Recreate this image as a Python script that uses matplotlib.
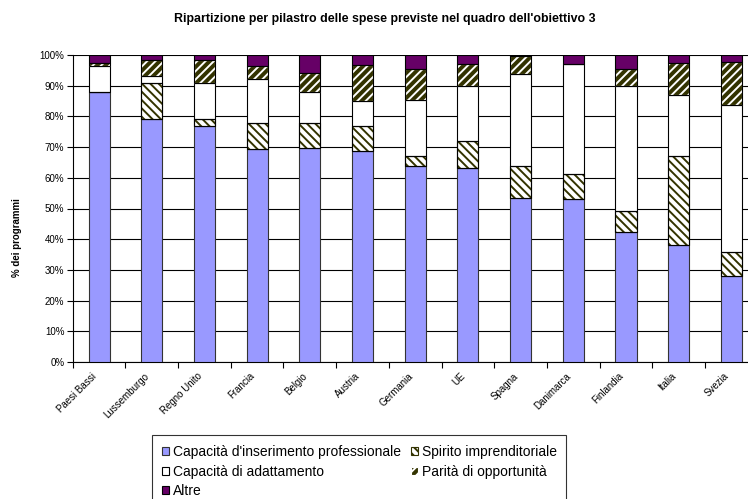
import matplotlib
matplotlib.use("Agg")
import matplotlib.pyplot as plt
import matplotlib.transforms as mtransforms
import numpy as np

plt.rcParams['font.family'] = ['Liberation Sans', 'DejaVu Sans']
plt.rcParams['hatch.linewidth'] = 1.4

categories = ['Paesi Bassi', 'Lussemburgo', 'Regno Unito', 'Francia', 'Belgio', 'Austria',
              'Germania', 'UE', 'Spagna', 'Danimarca', 'Finlandia', 'Italia', 'Svezia']
inserimento = [88.0, 79.0, 77.0, 69.5, 69.8, 68.7, 64.0, 63.1, 53.5, 53.2, 42.3, 38.2, 28.0]
spirito = [0.0, 12.0, 2.3, 8.3, 8.0, 8.3, 3.2, 8.9, 10.5, 8.1, 6.8, 28.9, 7.7]
adattamento = [8.3, 2.2, 11.6, 14.3, 10.3, 7.9, 18.0, 17.8, 29.8, 35.7, 40.9, 20.0, 48.0]
parita = [1.0, 5.1, 7.4, 4.2, 6.0, 11.9, 10.1, 7.2, 5.8, 0.0, 5.6, 10.2, 13.9]
altre = [2.7, 1.7, 1.7, 3.7, 5.9, 3.2, 4.7, 3.0, 0.4, 3.0, 4.4, 2.7, 2.4]

series_labels = ["Capacità d'inserimento professionale", "Spirito imprenditoriale",
                 "Capacità di adattamento", "Parità di opportunità", "Altre"]

fig = plt.figure(figsize=(7.48, 4.99), dpi=100)
ax = fig.add_axes([72.7 / 748, (499 - 362) / 499, 685.0 / 748, 307.0 / 499])

x = np.arange(len(categories))
w = 0.40
olive = '#333300'

b0 = np.zeros(len(x))
h_ins = ax.bar(x, inserimento, w, bottom=b0, color='#9999FF', edgecolor='#333333', linewidth=0.8, zorder=3)
b1 = b0 + np.array(inserimento)
h_spi = ax.bar(x, spirito, w, bottom=b1, facecolor='white', edgecolor=olive, hatch='\\\\\\\\',
               linewidth=0.8, zorder=3)
ax.bar(x, spirito, w, bottom=b1, fill=False, edgecolor='black', linewidth=0.8, zorder=4)
b2 = b1 + np.array(spirito)
h_ada = ax.bar(x, adattamento, w, bottom=b2, facecolor='white', edgecolor='black', linewidth=0.8, zorder=3)
b3 = b2 + np.array(adattamento)
h_par = ax.bar(x, parita, w, bottom=b3, facecolor=olive, edgecolor='white', hatch='////',
               linewidth=0.8, zorder=3)
ax.bar(x, parita, w, bottom=b3, fill=False, edgecolor='black', linewidth=0.8, zorder=4)
b4 = b3 + np.array(parita)
h_alt = ax.bar(x, altre, w, bottom=b4, facecolor='#660066', edgecolor='black', linewidth=0.8, zorder=3)

ax.set_xlim(-0.5, len(categories) - 0.5)
ax.set_ylim(0, 100)
ax.set_yticks(np.arange(0, 101, 10))
ax.set_yticklabels([f'{v}%' for v in range(0, 101, 10)], fontsize=7)
ax.yaxis.grid(True, color='black', linewidth=0.8, zorder=0)
ax.set_axisbelow(True)

ax.set_xticks(x)
ax.set_xticklabels(categories, rotation=45, ha='right', va='center', rotation_mode='anchor', fontsize=7)
ax.tick_params(axis='x', which='major', length=0, pad=9)
shift = mtransforms.ScaledTranslation(-4 / 100, 0, fig.dpi_scale_trans)
for lbl in ax.get_xticklabels():
    lbl.set_transform(lbl.get_transform() + shift)
ax.set_xticks(np.arange(-0.5, len(categories), 1), minor=True)
ax.tick_params(axis='x', which='minor', length=4, direction='out', width=0.8)
ax.tick_params(axis='y', length=4, direction='out', width=0.8, pad=2)

for s in ['top', 'right']:
    ax.spines[s].set_visible(False)
ax.spines['left'].set_linewidth(0.8)
ax.spines['bottom'].set_linewidth(0.8)

fig.text(385 / 748, 1 - 19 / 499, "Ripartizione per pilastro delle spese previste nel quadro dell'obiettivo 3",
         ha='center', va='center', fontsize=8.9, fontweight='bold')
fig.text(17 / 748, 1 - 238 / 499, '% dei programmi', rotation=90, ha='center', va='center',
         fontsize=7, fontweight='bold')

handles = [h_ins, h_ada, h_alt, h_spi, h_par]
labels = [series_labels[0], series_labels[2], series_labels[4], series_labels[1], series_labels[3]]
leg = fig.legend(handles, labels, loc='upper left', bbox_to_anchor=(152 / 748, 1 - 435 / 499),
                 ncol=2, fontsize=10, frameon=True, fancybox=False, edgecolor='black',
                 handlelength=0.5, handleheight=0.5, handletextpad=0.3, columnspacing=0.7,
                 labelspacing=0.42, borderpad=0.7, borderaxespad=0)
leg.get_frame().set_linewidth(0.8)

fig.savefig('out.png', dpi=100)
